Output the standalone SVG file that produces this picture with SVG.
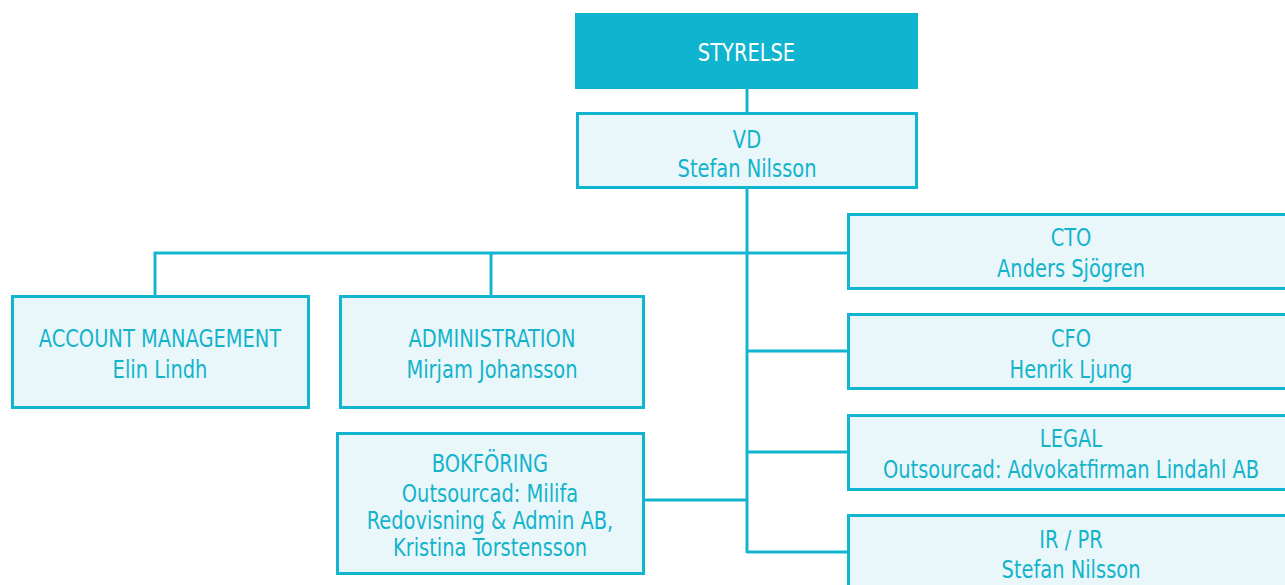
<svg xmlns="http://www.w3.org/2000/svg" width="1285" height="585" viewBox="0 0 1285 585">
<style>
.box{fill:#e9f7fa;stroke:#12b5cf;stroke-width:3}
.t{font-family:"DejaVu Sans Condensed","DejaVu Sans",sans-serif;font-size:24px;fill:#14b3cc;text-anchor:middle}
.w{fill:#ffffff}
.c{stroke:#12b5cf;stroke-width:3;fill:none}
</style>
<rect width="1285" height="585" fill="#ffffff"/>
<g id="connectors">
<line class="c" x1="747" y1="88" x2="747" y2="114"/>
<line class="c" x1="747" y1="187" x2="747" y2="553"/>
<polyline class="c" points="155,296 155,253 849,253"/>
<line class="c" x1="491" y1="253" x2="491" y2="296"/>
<line class="c" x1="747" y1="351" x2="849" y2="351"/>
<line class="c" x1="747" y1="452" x2="849" y2="452"/>
<line class="c" x1="747" y1="552" x2="849" y2="552"/>
<line class="c" x1="643" y1="500" x2="747" y2="500"/>
</g>
<g id="styrelse">
<rect x="575" y="13" width="343" height="76" fill="#0fb4ce"/>
<text class="t w" transform="translate(746.5 61) scale(0.9 1)">STYRELSE</text>
</g>
<g id="vd">
<rect class="box" x="577.5" y="113.5" width="339" height="74"/>
<text class="t" transform="translate(747 148) scale(0.9 1)">VD</text>
<text class="t" transform="translate(747 177) scale(0.9 1)">Stefan Nilsson</text>
</g>
<g id="account">
<rect class="box" x="12.5" y="296.5" width="296" height="111"/>
<text class="t" transform="translate(160 347) scale(0.9 1)">ACCOUNT MANAGEMENT</text>
<text class="t" transform="translate(160 378) scale(0.9 1)">Elin Lindh</text>
</g>
<g id="administration">
<rect class="box" x="340.5" y="296.5" width="303" height="111"/>
<text class="t" transform="translate(492 347) scale(0.9 1)">ADMINISTRATION</text>
<text class="t" transform="translate(492 378) scale(0.9 1)">Mirjam Johansson</text>
</g>
<g id="bokforing">
<rect class="box" x="337.5" y="433.5" width="306" height="140"/>
<text class="t" transform="translate(490 472) scale(0.9 1)">BOKFÖRING</text>
<text class="t" transform="translate(490 502) scale(0.9 1)">Outsourcad: Milifa</text>
<text class="t" transform="translate(490 529) scale(0.9 1)">Redovisning &amp; Admin AB,</text>
<text class="t" transform="translate(490 556) scale(0.9 1)">Kristina Torstensson</text>
</g>
<g id="cto">
<rect class="box" x="848.5" y="214.5" width="450" height="74"/>
<text class="t" transform="translate(1071 246) scale(0.9 1)">CTO</text>
<text class="t" transform="translate(1071 277) scale(0.9 1)">Anders Sjögren</text>
</g>
<g id="cfo">
<rect class="box" x="848.5" y="314.5" width="450" height="74"/>
<text class="t" transform="translate(1071 347) scale(0.9 1)">CFO</text>
<text class="t" transform="translate(1071 378) scale(0.9 1)">Henrik Ljung</text>
</g>
<g id="legal">
<rect class="box" x="848.5" y="415.5" width="450" height="74"/>
<text class="t" transform="translate(1071 447) scale(0.9 1)">LEGAL</text>
<text class="t" transform="translate(1071 478) scale(0.9 1)">Outsourcad: Advokatfirman Lindahl AB</text>
</g>
<g id="irpr">
<rect class="box" x="848.5" y="515.5" width="450" height="74"/>
<text class="t" transform="translate(1071 548) scale(0.9 1)">IR / PR</text>
<text class="t" transform="translate(1071 578) scale(0.9 1)">Stefan Nilsson</text>
</g>
</svg>
